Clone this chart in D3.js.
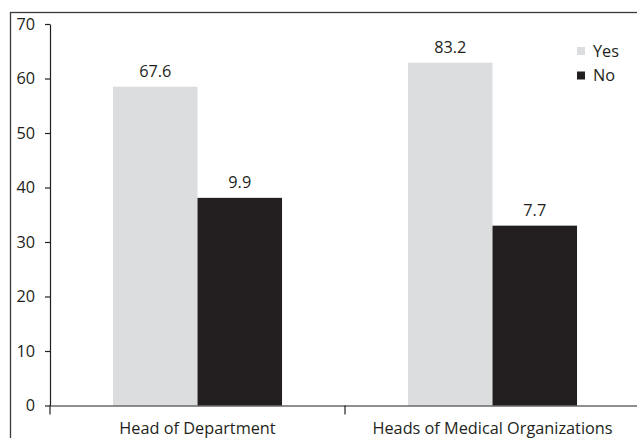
<!DOCTYPE html>
<html><head><meta charset="utf-8">
<script src="https://cdn.jsdelivr.net/npm/d3@7"></script>
<style>
html,body{margin:0;padding:0;background:#fff;}
svg{display:block;}
text{font-family:"Open Sans","Noto Sans",sans-serif;fill:#231f20;}
</style></head>
<body>
<svg id="chart" width="637" height="438"></svg>
<script>
const categories = ["Head of Department", "Heads of Medical Organizations"];
const series = ["Yes", "No"];
const yesBar = [58.5, 62.9];
const noBar = [38.1, 33.0];
const yesLabel = ["67.6", "83.2"];
const noLabel = ["9.9", "7.7"];
const yTicks = [0, 10, 20, 30, 40, 50, 60, 70];
const colors = ["#dcdddf", "#231f20"];

const svg = d3.select("#chart");
const mLeft = 50, mRight = 640, mTop = 24, mBottom = 405.5;
const fs = 16.3;
const ff = "'Open Sans','Noto Sans',sans-serif";

// outer frame
svg.append("rect").attr("x", 10.5).attr("y", 12.5).attr("width", 640).attr("height", 440)
  .attr("fill", "none").attr("stroke", "#3a3a3a").attr("stroke-width", 1.3);

const y = d3.scaleLinear().domain([0, 70]).range([mBottom, mTop]);
const x0 = d3.scaleBand().domain(categories).range([mLeft, mRight]).paddingInner(0).paddingOuter(0);
const x1 = d3.scaleBand().domain(series).range([0, x0.bandwidth()]).paddingInner(0).paddingOuter(0.745);

const rows = categories.map((c, i) => ({
  cat: c,
  vals: [
    {s: "Yes", v: yesBar[i], label: yesLabel[i]},
    {s: "No", v: noBar[i], label: noLabel[i]}
  ]
}));

const g = svg.append("g").selectAll("g").data(rows).join("g")
  .attr("transform", d => `translate(${x0(d.cat)},0)`);
g.selectAll("rect").data(d => d.vals).join("rect")
  .attr("x", d => x1(d.s)).attr("width", x1.bandwidth())
  .attr("y", d => y(d.v)).attr("height", d => y(0) - y(d.v))
  .attr("fill", d => colors[series.indexOf(d.s)]);
g.selectAll("text").data(d => d.vals).join("text")
  .attr("x", d => x1(d.s) + x1.bandwidth() / 2)
  .attr("y", d => y(d.v) - 10)
  .attr("text-anchor", "middle").attr("font-size", fs)
  .text(d => d.label);

// y axis
const yAxis = svg.append("g").attr("transform", `translate(${mLeft},0)`)
  .call(d3.axisLeft(y).tickValues(yTicks).tickSize(5).tickSizeOuter(0).tickPadding(10));
yAxis.selectAll("text").attr("font-size", fs).attr("font-family", ff).attr("fill", "#231f20");
yAxis.selectAll("line,path").attr("stroke", "#231f20").attr("stroke-width", 1.2);

// x axis
const xAxis = svg.append("g").attr("transform", `translate(0,${mBottom})`)
  .call(d3.axisBottom(x0).tickSize(0).tickSizeOuter(0).tickPadding(17));
xAxis.selectAll("text").attr("font-size", fs).attr("font-family", ff).attr("fill", "#231f20");
xAxis.select("path").attr("stroke", "#231f20").attr("stroke-width", 1.2);
const bounds = categories.map(c => x0(c)).concat([mRight]);
xAxis.selectAll("line.bound").data(bounds).join("line").attr("class", "bound")
  .attr("x1", d => d).attr("x2", d => d).attr("y1", 0).attr("y2", 9)
  .attr("stroke", "#231f20").attr("stroke-width", 1.2);

// legend
const lg = svg.append("g").selectAll("g").data(series).join("g")
  .attr("transform", (d, i) => `translate(577,${47 + i * 24.5})`);
lg.append("rect").attr("width", 8).attr("height", 8).attr("fill", (d, i) => colors[i]);
lg.append("text").attr("x", 16).attr("y", 9.5).attr("font-size", fs).text(d => d);
</script>
</body></html>
